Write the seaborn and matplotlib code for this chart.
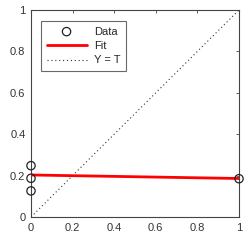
import numpy as np
import pandas as pd
import matplotlib
matplotlib.use("Agg")
import matplotlib.pyplot as plt
import seaborn as sns

# values
data_x = [0, 0, 0, 1]
data_y = [0.248, 0.187, 0.126, 0.185]
fit_x = [0, 1]
fit_y = [0.203, 0.186]
ref_x = [0, 1]
ref_y = [0, 1]
ticks = [0, 0.2, 0.4, 0.6, 0.8, 1]
tick_labels = ["0", "0.2", "0.4", "0.6", "0.8", "1"]

sns.set_style("white")
plt.rcParams['font.family'] = ['Liberation Sans', 'DejaVu Sans']

fig = plt.figure(figsize=(2.5, 2.43), dpi=100)
ax = fig.add_axes([31 / 250, 1 - 217 / 243, 208 / 250, 207 / 243])

df = pd.DataFrame({"x": data_x, "y": data_y})
sns.scatterplot(data=df, x="x", y="y", ax=ax, marker="o", s=36,
                facecolor="none", edgecolor="#222222", linewidth=0.9,
                label="Data", zorder=4, clip_on=False)
sns.lineplot(x=fit_x, y=fit_y, ax=ax, color="red", linewidth=2, label="Fit", zorder=3)
sns.lineplot(x=ref_x, y=ref_y, ax=ax, color="#333333", linewidth=0.8,
             linestyle=(0, (1, 2.5)), label="Y = T", zorder=2)

ax.set_xlim(0, 1)
ax.set_ylim(0, 1)
ax.set_xticks(ticks)
ax.set_xticklabels(tick_labels)
ax.set_yticks(ticks)
ax.set_yticklabels(tick_labels)
ax.set_xlabel("")
ax.set_ylabel("")
ax.tick_params(direction="in", length=2, width=0.6, labelsize=8,
               colors="#444444", labelcolor="#333333",
               top=True, right=True, pad=4)
for s in ax.spines.values():
    s.set_color("#444444")
    s.set_linewidth(0.8)

leg = ax.legend(loc="upper left", bbox_to_anchor=(0.048, 0.947), fontsize=8,
                frameon=True, fancybox=False, edgecolor="#444444",
                borderaxespad=0, handlelength=3.6, borderpad=0.5,
                labelspacing=0.4, handletextpad=0.7)
leg.get_frame().set_linewidth(0.8)

fig.savefig("out.png", dpi=100)
